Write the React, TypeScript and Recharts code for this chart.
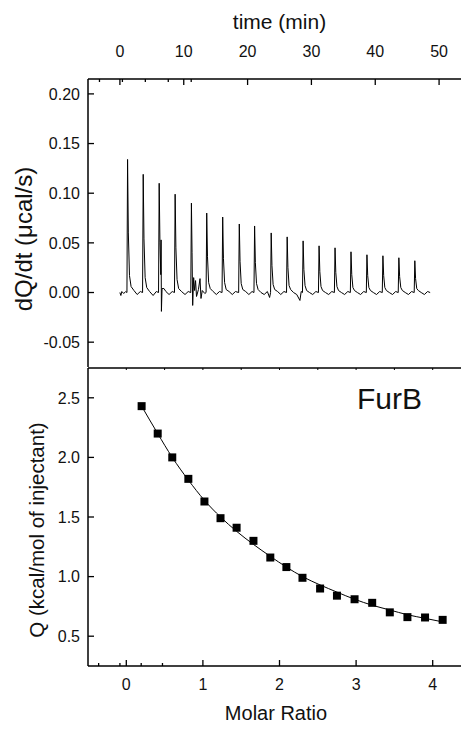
import { ComposedChart, LineChart, Line, Scatter, XAxis, YAxis, Label } from "recharts";

const FONT = '"Liberation Sans", Arial, Helvetica, sans-serif';

// raw ITC trace: [time (min), dQ/dt (µcal/s)]
const thermogram: [number, number][] = [
  [0.0, 0.0], [0.15, -0.003], [0.3, 0.001], [0.6, -0.001], [0.9, 0.001], [1.1, 0.0],
  [1.2, 0.134], [1.32, 0.06], [1.5, 0.017], [1.75, 0.006], [2.2, 0.002], [2.7, -0.002], [3.2, 0.001],
  [3.55, 0.0], [3.65, 0.119], [3.77, 0.054], [3.95, 0.015], [4.2, 0.005], [4.65, 0.001], [5.2, -0.003], [5.7, 0.001],
  [6.05, 0.0], [6.15, 0.11], [6.27, 0.05], [6.4, 0.018], [6.45, 0.053], [6.5, -0.019], [6.6, 0.004], [6.9, 0.004],
  [7.2, 0.001], [7.7, -0.002], [8.2, 0.001],
  [8.55, 0.0], [8.65, 0.099], [8.77, 0.045], [8.95, 0.013], [9.2, 0.004], [9.65, 0.001], [10.2, -0.002], [10.7, 0.001],
  [11.1, 0.0], [11.2, 0.09], [11.3, 0.04], [11.4, -0.013], [11.55, 0.015], [11.7, 0.002], [11.85, 0.012],
  [12.0, -0.004], [12.3, 0.003], [12.55, 0.014], [12.7, -0.006], [12.9, 0.002], [13.3, -0.001],
  [13.5, 0.0], [13.6, 0.08], [13.72, 0.036], [13.9, 0.01], [14.15, 0.004], [14.6, 0.001], [15.1, -0.002], [15.6, 0.001],
  [16.0, 0.0], [16.1, 0.076], [16.22, 0.034], [16.4, 0.01], [16.65, 0.003], [17.1, 0.001], [17.6, -0.002], [18.1, 0.001],
  [18.6, 0.0], [18.7, 0.069], [18.82, 0.031], [19.0, 0.009], [19.25, 0.003], [19.7, 0.001], [20.2, -0.002], [20.7, 0.001],
  [21.0, 0.0], [21.1, 0.067], [21.22, 0.03], [21.4, 0.009], [21.65, 0.003], [22.1, 0.0], [22.6, -0.002], [23.1, 0.001],
  [23.45, -0.005], [23.6, 0.0], [23.7, 0.06], [23.82, 0.027], [24.0, 0.008], [24.25, 0.003], [24.7, 0.001], [25.2, -0.002], [25.7, 0.001],
  [26.1, 0.0], [26.2, 0.056], [26.32, 0.025], [26.5, 0.007], [26.75, 0.003], [27.2, 0.0], [27.7, -0.002],
  [28.2, -0.008], [28.4, 0.001],
  [28.6, 0.0], [28.7, 0.052], [28.82, 0.023], [29.0, 0.007], [29.25, 0.002], [29.7, 0.0], [30.2, -0.002], [30.7, 0.001],
  [31.1, 0.0], [31.2, 0.047], [31.32, 0.021], [31.5, 0.006], [31.75, 0.002], [32.2, 0.0], [32.7, -0.002], [33.2, 0.001],
  [33.6, 0.0], [33.7, 0.045], [33.82, 0.02], [34.0, 0.006], [34.25, 0.002], [34.7, 0.0], [35.2, -0.002], [35.7, 0.001],
  [36.1, 0.0], [36.2, 0.041], [36.32, 0.018], [36.5, 0.005], [36.75, 0.002], [37.2, 0.0], [37.7, -0.002], [38.2, 0.001],
  [38.6, 0.0], [38.7, 0.038], [38.82, 0.017], [39.0, 0.005], [39.25, 0.002], [39.7, 0.0], [40.2, -0.002], [40.7, 0.001],
  [41.1, 0.0], [41.2, 0.037], [41.32, 0.017], [41.5, 0.005], [41.75, 0.002], [42.2, 0.0], [42.7, -0.002], [43.2, 0.001],
  [43.6, 0.0], [43.7, 0.035], [43.82, 0.016], [44.0, 0.005], [44.25, 0.002], [44.7, 0.0], [45.2, -0.002], [45.7, 0.001],
  [46.1, 0.0], [46.2, 0.032], [46.32, 0.014], [46.5, 0.004], [46.75, 0.002], [47.2, 0.0], [47.7, -0.002], [48.2, 0.001], [48.6, 0.0],
];

const timeTicks = [0, 10, 20, 30, 40, 50];
const timeMinor = [5, 15, 25, 35, 45];
const rateTicks = [-0.05, 0, 0.05, 0.1, 0.15, 0.2];
const rateMinor = [-0.025, 0.025, 0.075, 0.125, 0.175];

// integrated heats, lower panel
const molarRatio = [0.2, 0.41, 0.6, 0.81, 1.02, 1.23, 1.44, 1.66, 1.88, 2.09, 2.3, 2.53, 2.75, 2.98, 3.21, 3.44, 3.67, 3.9, 4.13];
const heatQ = [2.43, 2.2, 2.0, 1.82, 1.63, 1.49, 1.41, 1.3, 1.16, 1.08, 0.99, 0.9, 0.84, 0.81, 0.78, 0.7, 0.66, 0.657, 0.637];
const fitQ = [2.43, 2.2, 2.0, 1.81, 1.64, 1.5, 1.38, 1.27, 1.17, 1.08, 1.0, 0.93, 0.87, 0.81, 0.76, 0.72, 0.68, 0.65, 0.62];

const ratioTicks = [0, 1, 2, 3, 4];
const ratioMinor = [0.5, 1.5, 2.5, 3.5];
const heatTicks = [0.5, 1, 1.5, 2, 2.5];
const heatMinor = [0.75, 1.25, 1.75, 2.25];

const traceRows = thermogram.map(([t, dq]) => ({ t, dq }));
const heatRows = molarRatio.map((mr, i) => ({ mr, q: heatQ[i], fit: fitQ[i] }));

type Side = "left" | "top" | "bottom";

// major tick lines are drawn inward by recharts (tickSize -6, tickMargin 0),
// so x/y arrive at the inner end of the line; labels are placed from there
function tickLabel(side: Side, fmt: (v: number) => string) {
  return (props: any) => {
    const x = Number(props.x);
    const y = Number(props.y);
    const v = props.payload.value;
    if (side === "left")
      return <text x={x - 14} y={y} dy="0.36em" textAnchor="end" fontSize={16} fill="#111">{fmt(v)}</text>;
    if (side === "top")
      return <text x={x} y={y - 28} textAnchor="middle" fontSize={16} fill="#111">{fmt(v)}</text>;
    return <text x={x} y={y + 18} dy="0.72em" textAnchor="middle" fontSize={16} fill="#111">{fmt(v)}</text>;
  };
}

// tick={false} drops the tick lines too, so unlabeled axes get an empty label
const noLabel = () => <g />;

function title(text: string, dx: number | null, dy: number | null, size: number, rotate = false) {
  return (props: any) => {
    const vb = props.viewBox;
    const cx = vb.x + (dx === null ? vb.width / 2 : dx);
    const cy = vb.y + (dy === null ? vb.height / 2 : dy);
    return (
      <text
        x={cx}
        y={cy}
        dy="0.36em"
        textAnchor="middle"
        fontSize={size}
        fill="#111"
        transform={rotate ? `rotate(-90 ${cx} ${cy})` : undefined}
      >
        {text}
      </text>
    );
  };
}

const frame = { stroke: "#000", strokeWidth: 1.5 };
const tickStroke = { stroke: "#000", strokeWidth: 1.3 };

// mirrored axes sit on the plot edge without taking space: used for the short minor ticks
const minorX = (id: string, side: "top" | "bottom", domain: number[], ticks: number[]) => (
  <XAxis
    xAxisId={id}
    orientation={side}
    mirror
    type="number"
    domain={domain}
    ticks={ticks}
    interval={0}
    height={10}
    tickSize={3}
    tickMargin={0}
    tickLine={tickStroke}
    axisLine={false}
    tick={noLabel}
  />
);
const minorY = (id: string, side: "left" | "right", domain: number[], ticks: number[]) => (
  <YAxis
    yAxisId={id}
    orientation={side}
    mirror
    type="number"
    domain={domain}
    ticks={ticks}
    interval={0}
    width={10}
    tickSize={3}
    tickMargin={0}
    tickLine={tickStroke}
    axisLine={false}
    tick={noLabel}
  />
);

export default function App() {
  return (
    <div style={{ width: 461, overflow: "hidden", fontFamily: FONT }}>
      <LineChart width={470} height={359} data={traceRows} margin={{ top: 0, right: 6, bottom: 0, left: 0 }}>
        <XAxis
          xAxisId="t"
          orientation="top"
          dataKey="t"
          type="number"
          domain={[-5, 55]}
          ticks={timeTicks}
          interval={0}
          height={71}
          tickSize={-6}
          tickMargin={0}
          tickLine={tickStroke}
          axisLine={frame}
          tick={tickLabel("top", (v) => String(v))}
        >
          <Label content={title("time (min)", null, 13, 21)} />
        </XAxis>
        {minorX("tm", "top", [-5, 55], timeMinor)}
        <YAxis
          yAxisId="l"
          type="number"
          domain={[-0.075, 0.215]}
          ticks={rateTicks}
          interval={0}
          width={80}
          tickSize={-6}
          tickMargin={0}
          tickLine={tickStroke}
          axisLine={frame}
          tick={tickLabel("left", (v) => v.toFixed(2))}
        >
          <Label content={title("dQ/dt (\u03bccal/s)", 15, 160, 24, true)} />
        </YAxis>
        {minorY("lm", "left", [-0.075, 0.215], rateMinor)}
        <YAxis
          yAxisId="r"
          orientation="right"
          type="number"
          domain={[-0.075, 0.215]}
          ticks={rateTicks}
          interval={0}
          width={1}
          tickSize={-6}
          tickMargin={0}
          tickLine={tickStroke}
          axisLine={frame}
          tick={noLabel}
        />
        {minorY("rm", "right", [-0.075, 0.215], rateMinor)}
        <Line
          xAxisId="t"
          yAxisId="l"
          dataKey="dq"
          type="linear"
          stroke="#000"
          strokeWidth={1}
          dot={false}
          isAnimationActive={false}
        />
      </LineChart>

      <div style={{ position: "relative" }}>
        <ComposedChart width={470} height={361} data={heatRows} margin={{ top: 0, right: 6, bottom: 0, left: 0 }}>
          <XAxis
            xAxisId="top"
            orientation="top"
            dataKey="mr"
            type="number"
            domain={[-0.5, 4.5]}
            ticks={[...ratioTicks, ...ratioMinor]}
            interval={0}
            height={1}
            tickSize={-2}
            tickMargin={0}
            tickLine={{ stroke: "#000", strokeWidth: 1 }}
            axisLine={frame}
            tick={noLabel}
          />
          <XAxis
            xAxisId="b"
            dataKey="mr"
            type="number"
            domain={[-0.5, 4.5]}
            ticks={ratioTicks}
            interval={0}
            height={62}
            tickSize={-6}
            tickMargin={0}
            tickLine={tickStroke}
            axisLine={frame}
            tick={tickLabel("bottom", (v) => String(v))}
          >
            <Label content={title("Molar Ratio", 188, 47, 20)} />
          </XAxis>
          {minorX("bm", "bottom", [-0.5, 4.5], ratioMinor)}
          <YAxis
            yAxisId="l"
            type="number"
            domain={[0.25, 2.75]}
            ticks={heatTicks}
            interval={0}
            width={80}
            tickSize={-6}
            tickMargin={0}
            tickLine={tickStroke}
            axisLine={frame}
            tick={tickLabel("left", (v) => v.toFixed(1))}
          >
            <Label content={title("Q (kcal/mol of injectant)", 29, 162, 20.5, true)} />
          </YAxis>
          {minorY("lm", "left", [0.25, 2.75], heatMinor)}
          <YAxis
            yAxisId="r"
            orientation="right"
            type="number"
            domain={[0.25, 2.75]}
            ticks={heatTicks}
            interval={0}
            width={1}
            tickSize={-6}
            tickMargin={0}
            tickLine={tickStroke}
            axisLine={frame}
            tick={noLabel}
          />
          {minorY("rm", "right", [0.25, 2.75], heatMinor)}
          <Line
            xAxisId="b"
            yAxisId="l"
            dataKey="fit"
            type="monotone"
            stroke="#000"
            strokeWidth={1}
            dot={false}
            isAnimationActive={false}
          />
          <Scatter
            xAxisId="b"
            yAxisId="l"
            dataKey="q"
            shape="square"
            fill="#000"
            isAnimationActive={false}
          />
        </ComposedChart>
        <div
          style={{
            position: "absolute",
            left: 349,
            top: 17,
            fontSize: 30,
            lineHeight: 1,
            color: "#111",
          }}
        >
          FurB
        </div>
      </div>
    </div>
  );
}
